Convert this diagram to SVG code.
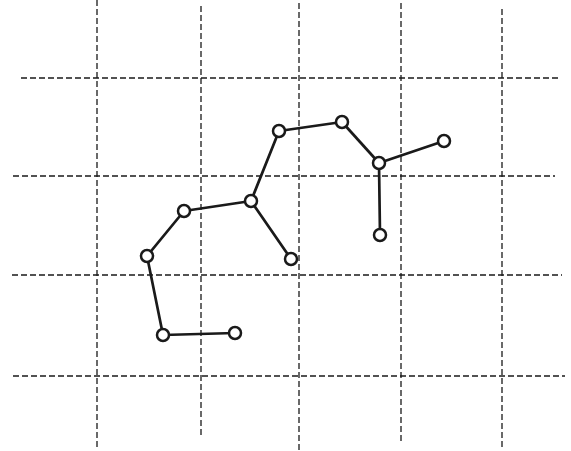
<svg xmlns="http://www.w3.org/2000/svg" width="571" height="451" viewBox="0 0 571 451">
<style>
.grid line{stroke:#1a1a1a;stroke-width:1.3;stroke-dasharray:6,3;fill:none}
.edges line{stroke:#1a1a1a;stroke-width:2.7;stroke-linecap:round}
.node circle{fill:#fff;stroke:#1a1a1a;stroke-width:2.5}
</style>
<rect width="571" height="451" fill="#fff"/>
<g class="grid" id="grid">
<line x1="21" y1="78" x2="560" y2="78"/>
<line x1="13" y1="176" x2="555" y2="176"/>
<line x1="12" y1="275" x2="562" y2="275"/>
<line x1="13" y1="376" x2="565" y2="376"/>
<line x1="97" y1="0" x2="97" y2="447"/>
<line x1="201" y1="6" x2="201" y2="438"/>
<line x1="299" y1="3" x2="299" y2="451"/>
<line x1="401" y1="3" x2="401" y2="444"/>
<line x1="502" y1="9" x2="502" y2="449"/>
</g>
<g class="edges" id="connectors">
<line x1="163" y1="335" x2="235" y2="333"/>
<line x1="163" y1="335" x2="147" y2="256"/>
<line x1="147" y1="256" x2="184" y2="211"/>
<line x1="184" y1="211" x2="251" y2="201"/>
<line x1="251" y1="201" x2="291" y2="259"/>
<line x1="251" y1="201" x2="279" y2="131"/>
<line x1="279" y1="131" x2="342" y2="122"/>
<line x1="342" y1="122" x2="379" y2="163"/>
<line x1="379" y1="163" x2="444" y2="141"/>
<line x1="379" y1="163" x2="380" y2="235"/>
</g>
<g class="node" id="n1"><circle cx="163" cy="335" r="6"/></g>
<g class="node" id="n2"><circle cx="235" cy="333" r="6"/></g>
<g class="node" id="n3"><circle cx="147" cy="256" r="6"/></g>
<g class="node" id="n4"><circle cx="184" cy="211" r="6"/></g>
<g class="node" id="n5"><circle cx="251" cy="201" r="6"/></g>
<g class="node" id="n6"><circle cx="291" cy="259" r="6"/></g>
<g class="node" id="n7"><circle cx="279" cy="131" r="6"/></g>
<g class="node" id="n8"><circle cx="342" cy="122" r="6"/></g>
<g class="node" id="n9"><circle cx="379" cy="163" r="6"/></g>
<g class="node" id="n10"><circle cx="444" cy="141" r="6"/></g>
<g class="node" id="n11"><circle cx="380" cy="235" r="6"/></g>
</svg>
